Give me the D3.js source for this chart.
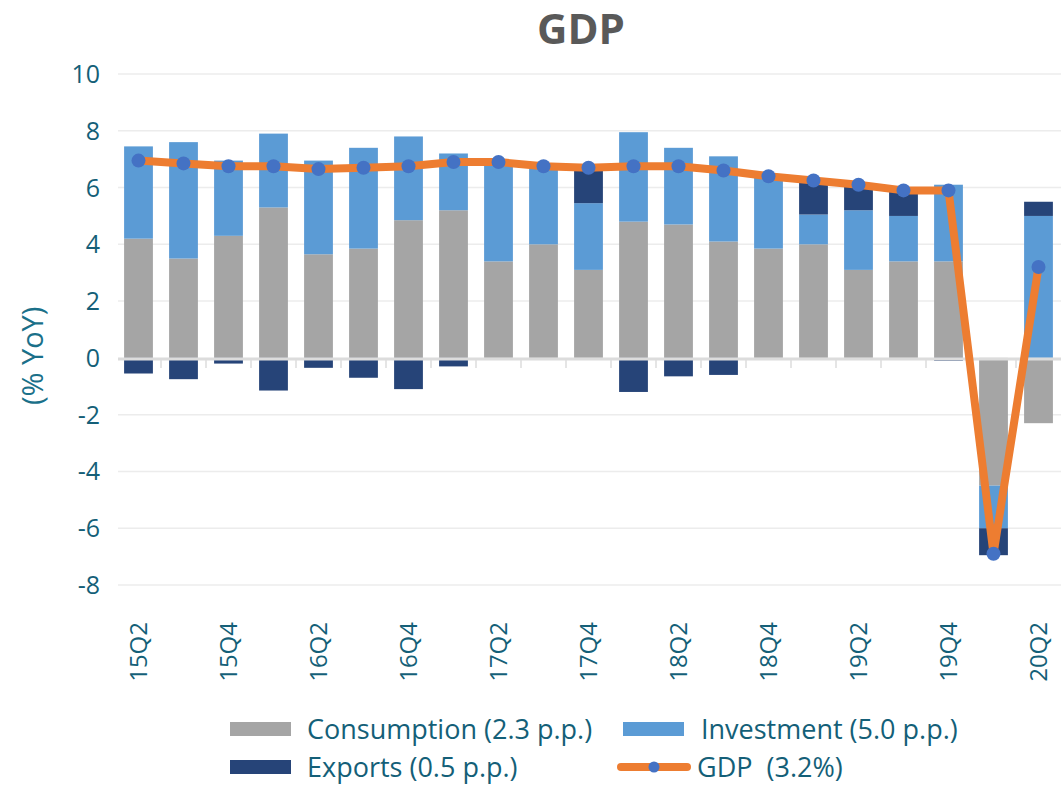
<!DOCTYPE html>
<html>
<head>
<meta charset="utf-8">
<script src="https://cdn.jsdelivr.net/npm/d3@7"></script>
<style>
    body { margin: 0; background: #ffffff; overflow: hidden; }
    svg { display: block; }
    text { font-family: "Open Sans", "DejaVu Sans", sans-serif; white-space: pre; }
</style>
</head>
<body>
<div id="chart"></div>
<script>
/*-------------------------------------------------------*/
/*------------------------ Data -------------------------*/
/*-------------------------------------------------------*/
const quarters = ["15Q2", "15Q3", "15Q4", "16Q1", "16Q2", "16Q3", "16Q4", "17Q1", "17Q2", "17Q3", "17Q4",
    "18Q1", "18Q2", "18Q3", "18Q4", "19Q1", "19Q2", "19Q3", "19Q4", "20Q1", "20Q2"];

const consumption = [4.2, 3.5, 4.3, 5.3, 3.65, 3.85, 4.85, 5.2, 3.4, 4.0, 3.1,
    4.8, 4.7, 4.1, 3.85, 4.0, 3.1, 3.4, 3.4, -4.5, -2.3];
const investment = [3.25, 4.1, 2.65, 2.6, 3.3, 3.55, 2.95, 2.0, 3.5, 2.75, 2.35,
    3.15, 2.7, 3.0, 2.55, 1.05, 2.1, 1.6, 2.7, -1.5, 5.0];
const exportsPP = [-0.55, -0.75, -0.2, -1.15, -0.35, -0.7, -1.1, -0.3, 0, 0, 1.2,
    -1.2, -0.65, -0.6, 0, 1.15, 0.9, 0.9, -0.1, -0.95, 0.5];
const gdp = [6.95, 6.85, 6.75, 6.75, 6.65, 6.7, 6.75, 6.9, 6.9, 6.75, 6.7,
    6.75, 6.75, 6.6, 6.4, 6.25, 6.1, 5.9, 5.9, -6.9, 3.2];

const yTicks = [-8, -6, -4, -2, 0, 2, 4, 6, 8, 10];
const xTickLabels = ["15Q2", "15Q4", "16Q2", "16Q4", "17Q2", "17Q4", "18Q2", "18Q4", "19Q2", "19Q4", "20Q2"];

const seriesKeys = ["consumption", "investment", "exports"];
const seriesColors = { consumption: "#a5a5a5", investment: "#5b9bd5", exports: "#264478" };

const legendItems = [
    { label: "Consumption (2.3 p.p.)", key: "consumption" },
    { label: "Investment (5.0 p.p.)", key: "investment" },
    { label: "Exports (0.5 p.p.)", key: "exports" },
    { label: "GDP  (3.2%)", key: "gdp" }
];

/*-------------------------------------------------------*/
/*---------------------- Setup --------------------------*/
/*-------------------------------------------------------*/
const width = 1061;
const height = 785;
const textColor = "#145f78";

const svg = d3.select("#chart").append("svg")
    .attr("width", width)
    .attr("height", height);

const x = d3.scaleBand()
    .domain(quarters)
    .range([116, 1061])
    .paddingInner(0.36)
    .paddingOuter(0.18);

const y = d3.scaleLinear()
    .domain([-8, 10])
    .range([585, 74]);

const rows = quarters.map((q, i) => ({
    quarter: q,
    consumption: consumption[i],
    investment: investment[i],
    exports: exportsPP[i],
    gdp: gdp[i]
}));

/*-------------------------------------------------------*/
/*---------------------- Title --------------------------*/
/*-------------------------------------------------------*/
svg.append("text")
    .attr("x", 581)
    .attr("y", 44)
    .attr("text-anchor", "middle")
    .attr("font-size", 42)
    .attr("font-weight", "bold")
    .attr("fill", "#595959")
    .text("GDP");

/*-------------------------------------------------------*/
/*---------------------- Grid + y axis ------------------*/
/*-------------------------------------------------------*/
svg.append("g")
    .selectAll("line")
    .data(yTicks.filter(d => d !== 0))
    .join("line")
    .attr("x1", 118)
    .attr("x2", width)
    .attr("y1", d => y(d))
    .attr("y2", d => y(d))
    .attr("stroke", "#ececec")
    .attr("stroke-width", 1.5);

svg.append("g")
    .selectAll("text")
    .data(yTicks)
    .join("text")
    .attr("x", 100)
    .attr("y", d => y(d))
    .attr("dy", "0.36em")
    .attr("text-anchor", "end")
    .attr("font-size", 25)
    .attr("fill", textColor)
    .text(d => d);

svg.append("text")
    .attr("transform", `translate(43, ${y(0) - 2}) rotate(-90)`)
    .attr("text-anchor", "middle")
    .attr("font-size", 29)
    .attr("fill", "#1a7089")
    .text("(% YoY)");

/*-------------------------------------------------------*/
/*---------------------- Stacked bars -------------------*/
/*-------------------------------------------------------*/
const stack = d3.stack()
    .keys(seriesKeys)
    .offset(d3.stackOffsetDiverging);

const stacked = stack(rows);

svg.append("g")
    .selectAll("g")
    .data(stacked)
    .join("g")
    .attr("fill", d => seriesColors[d.key])
    .selectAll("rect")
    .data(d => d)
    .join("rect")
    .attr("x", d => x(d.data.quarter))
    .attr("width", x.bandwidth())
    .attr("y", d => y(Math.max(d[0], d[1])))
    .attr("height", d => Math.abs(y(d[0]) - y(d[1])));

// zero axis line + category ticks
svg.append("line")
    .attr("x1", 118)
    .attr("x2", width)
    .attr("y1", y(0) + 1)
    .attr("y2", y(0) + 1)
    .attr("stroke", "#dcdcdc")
    .attr("stroke-width", 3);

svg.append("g")
    .selectAll("line")
    .data(quarters.slice(1))
    .join("line")
    .attr("x1", d => x(d) - x.step() * x.paddingInner() / 2)
    .attr("x2", d => x(d) - x.step() * x.paddingInner() / 2)
    .attr("y1", y(0))
    .attr("y2", y(0) + 10)
    .attr("stroke", "#dcdcdc")
    .attr("stroke-width", 1.5);

/*-------------------------------------------------------*/
/*---------------------- GDP line -----------------------*/
/*-------------------------------------------------------*/
const line = d3.line()
    .x(d => x(d.quarter) + x.bandwidth() / 2)
    .y(d => y(d.gdp));

svg.append("path")
    .datum(rows)
    .attr("d", line)
    .attr("fill", "none")
    .attr("stroke", "#ed7d31")
    .attr("stroke-width", 8)
    .attr("stroke-linejoin", "round");

svg.append("g")
    .selectAll("circle")
    .data(rows)
    .join("circle")
    .attr("cx", d => x(d.quarter) + x.bandwidth() / 2)
    .attr("cy", d => y(d.gdp))
    .attr("r", 7)
    .attr("fill", "#4472c4");

/*-------------------------------------------------------*/
/*---------------------- X labels -----------------------*/
/*-------------------------------------------------------*/
svg.append("g")
    .selectAll("text")
    .data(xTickLabels)
    .join("text")
    .attr("transform", d => `translate(${x(d) + x.bandwidth() / 2}, 622) rotate(-90)`)
    .attr("text-anchor", "end")
    .attr("dy", "0.36em")
    .attr("font-size", 24)
    .attr("fill", textColor)
    .text(d => d);

/*-------------------------------------------------------*/
/*---------------------- Legend -------------------------*/
/*-------------------------------------------------------*/
const legendPos = [
    { sx: 230, tx: 307, y: 729 },
    { sx: 623, tx: 701, y: 729 },
    { sx: 230, tx: 307, y: 767 },
    { sx: 621, tx: 697, y: 767 }
];

const legend = svg.append("g")
    .selectAll("g")
    .data(legendItems)
    .join("g")
    .attr("transform", (d, i) => `translate(0, ${legendPos[i].y})`);

legend.each(function (d, i) {
    const g = d3.select(this);
    const p = legendPos[i];
    if (d.key === "gdp") {
        g.append("line")
            .attr("x1", p.sx)
            .attr("x2", p.sx + 66)
            .attr("stroke", "#ed7d31")
            .attr("stroke-width", 8)
            .attr("stroke-linecap", "round");
        g.append("circle")
            .attr("cx", p.sx + 33)
            .attr("r", 5.5)
            .attr("fill", "#4472c4");
    } else {
        g.append("rect")
            .attr("x", p.sx)
            .attr("y", -7)
            .attr("width", 61)
            .attr("height", 14)
            .attr("fill", seriesColors[d.key]);
    }
    g.append("text")
        .attr("x", p.tx)
        .attr("y", 0)
        .attr("dy", "0.36em")
        .attr("font-size", 27)
        .attr("fill", textColor)
        .text(d.label);
});
</script>
</body>
</html>
